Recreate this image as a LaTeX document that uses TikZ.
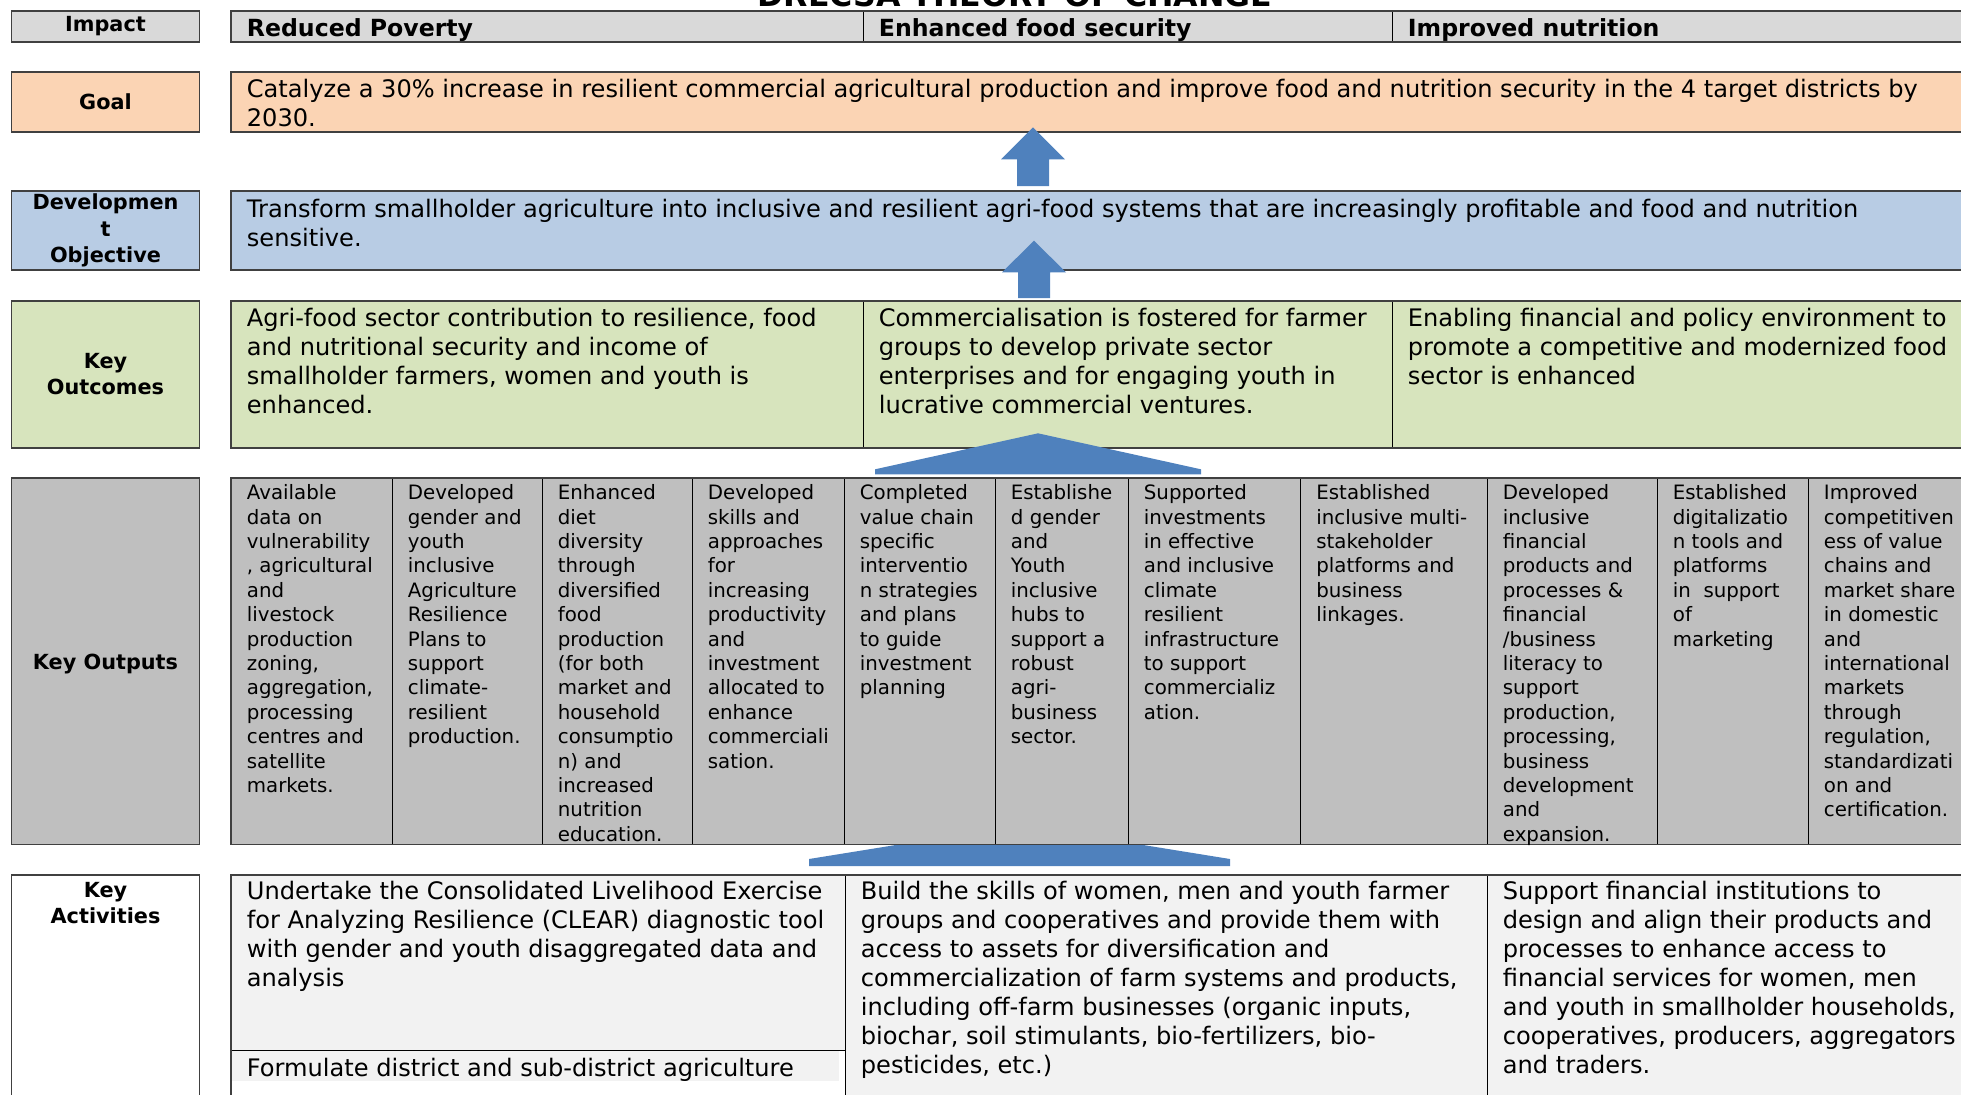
\documentclass[tikz,border=0pt]{standalone}
\usepackage{fontspec}
\setmainfont{DejaVu Sans}
\usetikzlibrary{fit,positioning}
\pgfdeclarelayer{background}
\pgfsetlayers{background,main}

\definecolor{impgray}{HTML}{D9D9D9}
\definecolor{goalpeach}{HTML}{FBD4B4}
\definecolor{devblue}{HTML}{B8CCE4}
\definecolor{outgreen}{HTML}{D7E4BD}
\definecolor{outpgray}{HTML}{BFBFBF}
\definecolor{actgray}{HTML}{F2F2F2}
\definecolor{arrowblue}{HTML}{4F81BD}

\begin{document}
\begin{tikzpicture}[x=0.5pt,y=-0.5pt,
lbltxt/.style={
  font={\fontsize{10.4pt}{13.1pt}\selectfont\bfseries}},
rowlabel/.style={
  lbltxt,
  draw=black!75, line width=0.9pt,
  anchor=north west,
  minimum width=94pt,
  inner sep=0pt, outer sep=0pt,
  align=center},
tcell/.style={
  draw=black, line width=0.5pt,
  anchor=north west,
  inner sep=0pt, outer sep=0pt},
rowframe/.style={
  draw=black!75, line width=0.9pt,
  inner sep=0pt},
headtxt/.style={
  anchor=base west, inner sep=0pt,
  font={\fontsize{11.8pt}{14pt}\selectfont\bfseries}},
bigtxt/.style={
  anchor=north west, inner sep=0pt, align=left,
  font={\fontsize{12.05pt}{14.45pt}\selectfont}},
smalltxt/.style={
  bigtxt,
  font={\fontsize{9.9pt}{12.2pt}\selectfont}},
blockarrow/.style={fill=arrowblue},
]
\useasboundingbox (0,0) rectangle (1961,1094);

\node[anchor=base, inner sep=0pt,
  font={\fontsize{15.8pt}{18pt}\selectfont\bfseries}] (title) at (1015,6)
  {DRECSA THEORY OF CHANGE};

% row labels
\node[rowlabel, fill=impgray, minimum height=15.5pt] (Impact) at (11.5,10.7) {Impact};
\node[rowlabel, fill=goalpeach, minimum height=30pt] (Goal) at (11.5,71.7) {Goal};
\node[rowlabel, fill=devblue, minimum height=39.5pt] (DevObj) at (11.5,191)
  {Developmen\\t\\Objective};
\node[rowlabel, fill=outgreen, minimum height=73.75pt] (Outcomes) at (11.5,300.7)
  {Key\\Outcomes};
\node[rowlabel, fill=outpgray, minimum height=183.1pt, text depth=0pt] (Outputs) at (11.5,478.3)
  {Key Outputs};
\node[rowlabel, fill=white, minimum height=122.5pt] (Activities) at (11.5,875) {};
\node[lbltxt, anchor=north, inner sep=0pt, align=center] (acttxt)
  at ([yshift=-3.3pt]Activities.north) {Key\\Activities};

% impact
\node[tcell, fill=impgray, minimum width=316pt, minimum height=15.5pt] (poverty) at (231,10.7) {};
\node[tcell, fill=impgray, minimum width=264.5pt, minimum height=15.5pt, right=0pt of poverty] (foodsec) {};
\node[tcell, fill=impgray, minimum width=291.5pt, minimum height=15.5pt, right=0pt of foodsec] (nutrition) {};
\node[rowframe, fit=(poverty) (nutrition)] (impframe) {};
\node[headtxt] (povertytxt) at ([xshift=7.75pt,yshift=2.85pt]poverty.south west) {Reduced Poverty};
\node[headtxt] (foodsectxt) at ([xshift=7.75pt,yshift=2.85pt]foodsec.south west) {Enhanced food security};
\node[headtxt] (nutritiontxt) at ([xshift=7.75pt,yshift=2.85pt]nutrition.south west) {Improved nutrition};

% goal
\node[tcell, rowframe, fill=goalpeach, minimum width=872pt, minimum height=30pt] (goalcell) at (231,71.7) {};
\node[bigtxt] (goaltxt) at ([xshift=7.75pt,yshift=-3.5pt]goalcell.north west)
  {Catalyze a 30\% increase in resilient commercial agricultural production and improve food and nutrition security in the 4 target districts by\\2030.};

% development objective
\node[tcell, rowframe, fill=devblue, minimum width=872pt, minimum height=39.5pt] (devcell) at (231,191) {};
\node[bigtxt] (devtxt) at ([xshift=7.75pt,yshift=-3.8pt]devcell.north west)
  {Transform smallholder agriculture into inclusive and resilient agri-food systems that are increasingly profitable and food and nutrition\\sensitive.};

% key outcomes
\node[tcell, fill=outgreen, minimum width=316pt, minimum height=73.75pt] (oc1) at (231,300.7) {};
\node[tcell, fill=outgreen, minimum width=264.5pt, minimum height=73.75pt, right=0pt of oc1] (oc2) {};
\node[tcell, fill=outgreen, minimum width=291.5pt, minimum height=73.75pt, right=0pt of oc2] (oc3) {};
\node[rowframe, fit=(oc1) (oc3)] (ocframe) {};
\node[bigtxt] (oc1txt) at ([xshift=7.75pt,yshift=-3.6pt]oc1.north west)
  {Agri-food sector contribution to resilience, food\\and nutritional security and income of\\smallholder farmers, women and youth is\\enhanced.};
\node[bigtxt] (oc2txt) at ([xshift=7.75pt,yshift=-3.6pt]oc2.north west)
  {Commercialisation is fostered for farmer\\groups to develop private sector\\enterprises and for engaging youth in\\lucrative commercial ventures.};
\node[bigtxt] (oc3txt) at ([xshift=7.75pt,yshift=-3.6pt]oc3.north west)
  {Enabling financial and policy environment to\\promote a competitive and modernized food\\sector is enhanced};

% key outputs
\node[tcell, fill=outpgray, minimum width=80.5pt, minimum height=183.1pt] (op1) at (231,478.3) {};
\node[tcell, fill=outpgray, minimum width=75pt, minimum height=183.1pt, right=0pt of op1] (op2) {};
\node[tcell, fill=outpgray, minimum width=75pt, minimum height=183.1pt, right=0pt of op2] (op3) {};
\node[tcell, fill=outpgray, minimum width=76pt, minimum height=183.1pt, right=0pt of op3] (op4) {};
\node[tcell, fill=outpgray, minimum width=75.5pt, minimum height=183.1pt, right=0pt of op4] (op5) {};
\node[tcell, fill=outpgray, minimum width=66.5pt, minimum height=183.1pt, right=0pt of op5] (op6) {};
\node[tcell, fill=outpgray, minimum width=86.25pt, minimum height=183.1pt, right=0pt of op6] (op7) {};
\node[tcell, fill=outpgray, minimum width=93.25pt, minimum height=183.1pt, right=0pt of op7] (op8) {};
\node[tcell, fill=outpgray, minimum width=85pt, minimum height=183.1pt, right=0pt of op8] (op9) {};
\node[tcell, fill=outpgray, minimum width=75.5pt, minimum height=183.1pt, right=0pt of op9] (op10) {};
\node[tcell, fill=outpgray, minimum width=83.5pt, minimum height=183.1pt, right=0pt of op10] (op11) {};
\node[rowframe, fit=(op1) (op11)] (opframe) {};
\node[smalltxt] (op1txt) at ([xshift=7.75pt,yshift=-3pt]op1.north west)
  {Available\\data on\\vulnerability\\, agricultural\\and\\livestock\\production\\zoning,\\aggregation,\\processing\\centres and\\satellite\\markets.};
\node[smalltxt] (op2txt) at ([xshift=7.75pt,yshift=-3pt]op2.north west)
  {Developed\\gender and\\youth\\inclusive\\Agriculture\\Resilience\\Plans to\\support\\climate-\\resilient\\production.};
\node[smalltxt] (op3txt) at ([xshift=7.75pt,yshift=-3pt]op3.north west)
  {Enhanced\\diet\\diversity\\through\\diversified\\food\\production\\(for both\\market and\\household\\consumptio\\n) and\\increased\\nutrition\\education.};
\node[smalltxt] (op4txt) at ([xshift=7.75pt,yshift=-3pt]op4.north west)
  {Developed\\skills and\\approaches\\for\\increasing\\productivity\\and\\investment\\allocated to\\enhance\\commerciali\\sation.};
\node[smalltxt] (op5txt) at ([xshift=7.75pt,yshift=-3pt]op5.north west)
  {Completed\\value chain\\specific\\interventio\\n strategies\\and plans\\to guide\\investment\\planning};
\node[smalltxt] (op6txt) at ([xshift=7.75pt,yshift=-3pt]op6.north west)
  {Establishe\\d gender\\and\\Youth\\inclusive\\hubs to\\support a\\robust\\agri-\\business\\sector.};
\node[smalltxt] (op7txt) at ([xshift=7.75pt,yshift=-3pt]op7.north west)
  {Supported\\investments\\in effective\\and inclusive\\climate\\resilient\\infrastructure\\to support\\commercializ\\ation.};
\node[smalltxt] (op8txt) at ([xshift=7.75pt,yshift=-3pt]op8.north west)
  {Established\\inclusive multi-\\stakeholder\\platforms and\\business\\linkages.};
\node[smalltxt] (op9txt) at ([xshift=7.75pt,yshift=-3pt]op9.north west)
  {Developed\\inclusive\\financial\\products and\\processes \&\\financial\\/business\\literacy to\\support\\production,\\processing,\\business\\development\\and\\expansion.};
\node[smalltxt] (op10txt) at ([xshift=7.75pt,yshift=-3pt]op10.north west)
  {Established\\digitalizatio\\n tools and\\platforms\\in\ \ support\\of\\marketing};
\node[smalltxt] (op11txt) at ([xshift=7.75pt,yshift=-3pt]op11.north west)
  {Improved\\competitiven\\ess of value\\chains and\\market share\\in domestic\\and\\international\\markets\\through\\regulation,\\standardizati\\on and\\certification.};

% key activities
\node[tcell, fill=actgray, minimum width=307pt, minimum height=87.85pt] (act1) at (231,875) {};
\node[fill=actgray, inner sep=0pt, outer sep=0pt, anchor=north west,
  minimum width=304pt, minimum height=15pt] (act1strip) at (act1.south west) {};
\node[tcell, minimum width=307pt, minimum height=34.65pt, below=0pt of act1] (act1b) {};
\node[tcell, fill=actgray, minimum width=321pt, minimum height=122.5pt] (act2) at (act1.north east) {};
\node[tcell, fill=actgray, minimum width=244pt, minimum height=122.5pt, right=0pt of act2] (act3) {};
\node[rowframe, fit=(act1) (act1b) (act3)] (actframe) {};
\node[bigtxt] (act1txt) at ([xshift=7.75pt,yshift=-3pt]act1.north west)
  {Undertake the Consolidated Livelihood Exercise\\for Analyzing Resilience (CLEAR) diagnostic tool\\with gender and youth disaggregated data and\\analysis};
\node[bigtxt] (act1btxt) at ([xshift=7.75pt,yshift=-3.4pt]act1b.north west)
  {Formulate district and sub-district agriculture};
\node[bigtxt] (act2txt) at ([xshift=7.75pt,yshift=-3pt]act2.north west)
  {Build the skills of women, men and youth farmer\\groups and cooperatives and provide them with\\access to assets for diversification and\\commercialization of farm systems and products,\\including off-farm businesses (organic inputs,\\biochar, soil stimulants, bio-fertilizers, bio-\\pesticides, etc.)};
\node[bigtxt] (act3txt) at ([xshift=7.75pt,yshift=-3pt]act3.north west)
  {Support financial institutions to\\design and align their products and\\processes to enhance access to\\financial services for women, men\\and youth in smallholder households,\\cooperatives, producers, aggregators\\and traders.};

% block arrows
\fill[blockarrow] (1017,186) -- (1017,159.3) -- (1001,159.3) -- (1033,127.3)
  -- (1065,159.3) -- (1049,159.3) -- (1049,186) -- cycle;
\fill[blockarrow] (1018,298) -- (1018,272.3) -- (1002,272.3) -- (1034,240.7)
  -- (1066,272.3) -- (1050,272.3) -- (1050,298) -- cycle;
\fill[blockarrow] (875,474.3) -- (875,469.3) -- (1038,433.3) -- (1201,469.3)
  -- (1201,474.3) -- cycle;
\begin{pgfonlayer}{background}
\fill[blockarrow] (809,866) -- (809,859) -- (1019.5,825) -- (1230,859)
  -- (1230,866) -- cycle;
\end{pgfonlayer}

\end{tikzpicture}
\end{document}
